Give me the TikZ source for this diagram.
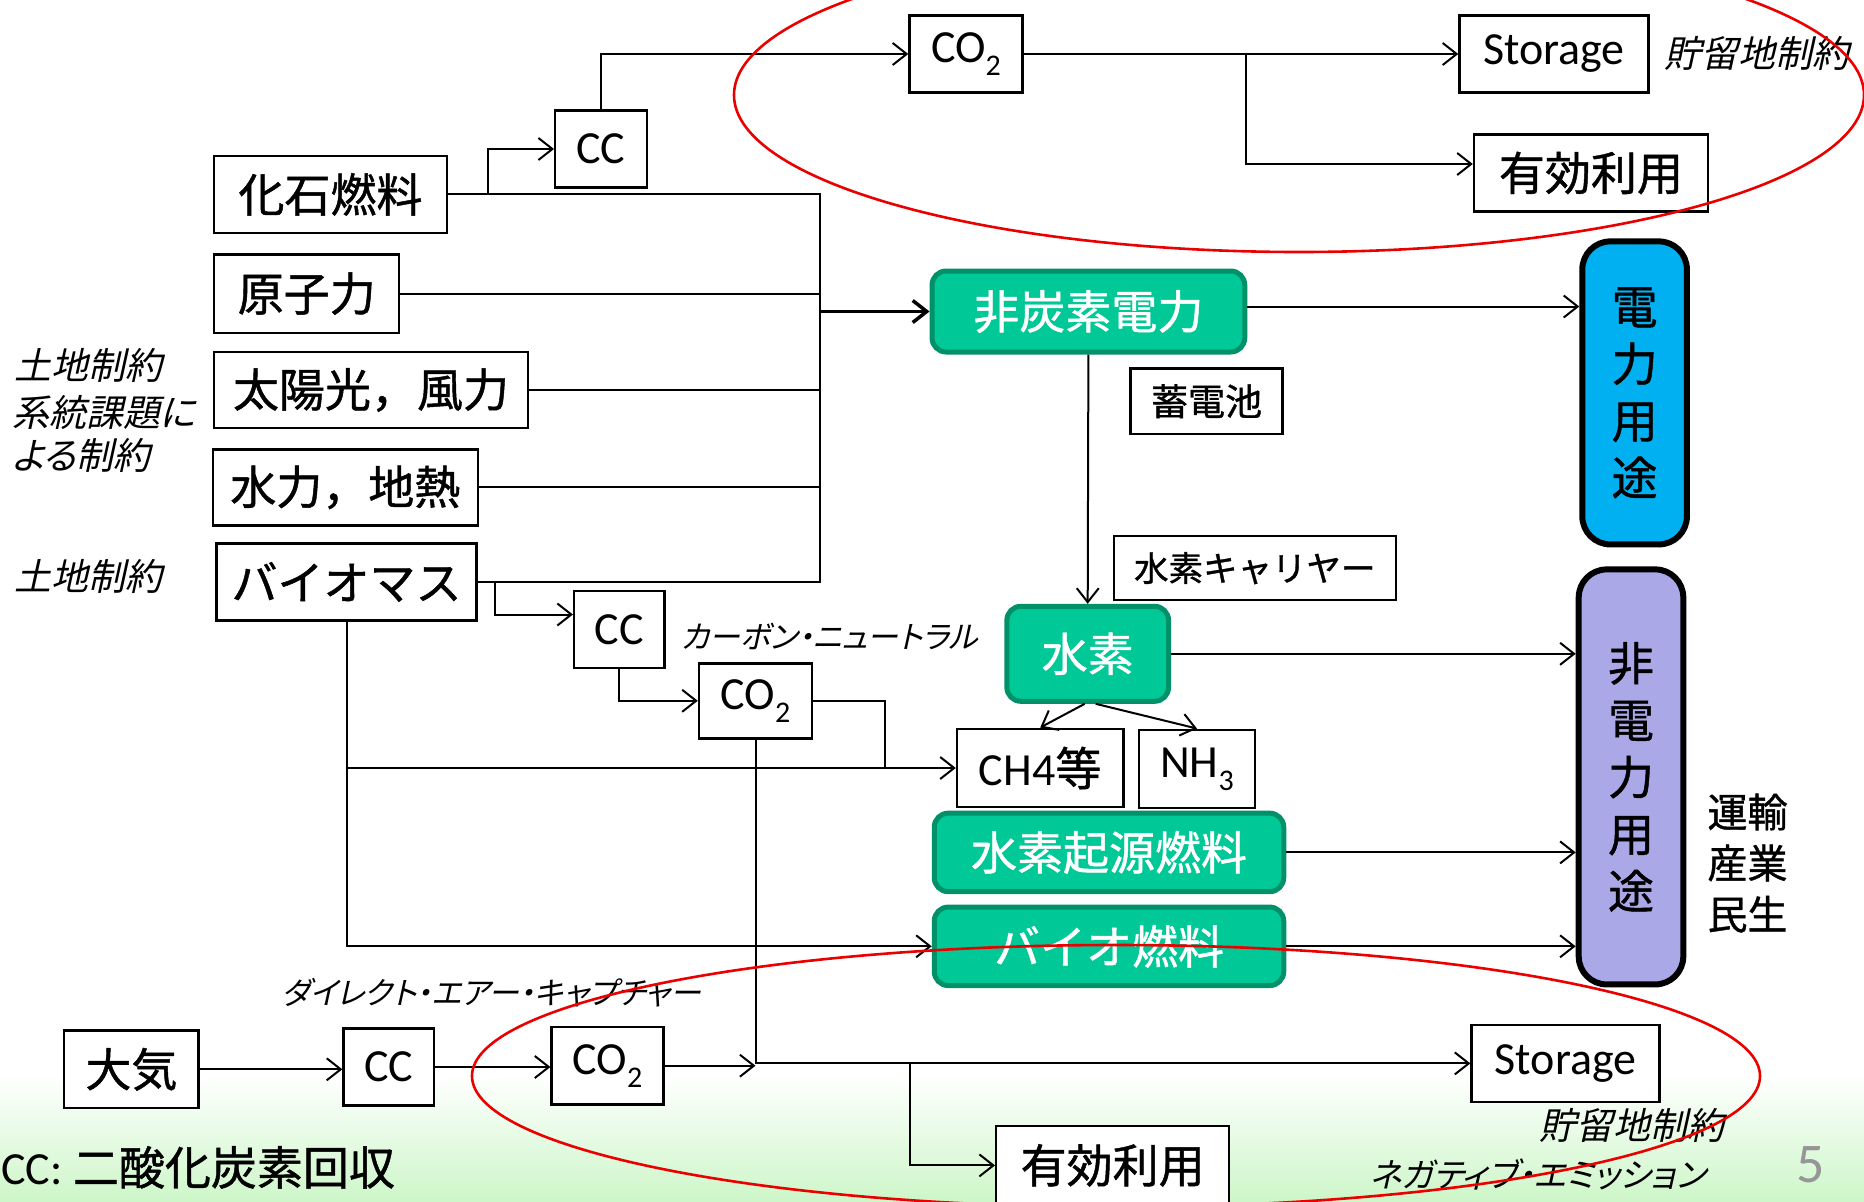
\documentclass[tikz,border=0pt]{standalone}
\usepackage{fontspec}
\setmainfont{Carlito}
\newfontfamily\jp{Noto Sans CJK JP}[FakeBold=1.0]
\newfontfamily\jpit{Noto Sans CJK JP}[FakeSlant=0.22,RawFeature=+palt]
\usetikzlibrary{arrows.meta}
\definecolor{gfill}{RGB}{0,200,150}
\definecolor{gdraw}{RGB}{0,145,105}
\definecolor{bfill}{RGB}{0,176,240}
\definecolor{pfill}{RGB}{171,168,232}
\definecolor{bggreen}{RGB}{205,246,200}
\definecolor{ellred}{RGB}{235,0,0}
\definecolor{pggray}{RGB}{150,150,150}
\newcommand\fsL{\fontsize{46}{55}\selectfont}
\newcommand\subs[1]{\raisebox{-0.28em}{\fontsize{30}{30}\selectfont #1}}
\begin{document}
\begin{tikzpicture}[x=1pt,y=-1pt,
 box/.style={draw=black, line width=2.4pt, fill=white, inner sep=0pt, font=\fsL},
 jbox/.style={box, font=\jp\fsL},
 gbox/.style={draw=gdraw, line width=5pt, fill=gfill, rounded corners=14pt, inner sep=0pt, text=white, font=\jp\fsL},
 ubox/.style={draw=black, line width=6pt, rounded corners=28pt, inner sep=0pt, align=center, font=\jp\fontsize{46}{57}\selectfont},
 wire/.style={line width=2pt},
 conn/.style={line width=2pt, -{Straight Barb[length=14pt,width=22pt]}},
 note/.style={font=\jpit\fontsize{37}{44}\selectfont, inner sep=0pt, anchor=west},
 knote/.style={note, font=\jpit\fontsize{31}{36}\selectfont},
]
\useasboundingbox (0,0) rectangle (1864,1202);
\clip (0,0) rectangle (1864,1202);
\fill[white] (0,0) rectangle (1864,1202);
\shade[top color=white, bottom color=bggreen] (0,1075) rectangle (1864,1202);

% top CO2 chain
\node[box, minimum width=113pt, minimum height=77pt] (co2a) at (966,54) {CO\subs{2}};
\node[box, minimum width=189pt, minimum height=77pt] (stoa) at (1554,54) {Storage};
\node[box, minimum width=91.5pt, minimum height=77pt] (cca) at (601,149) {CC};
\node[jbox, minimum width=234pt, minimum height=77pt] (yuka) at (1591,173) {有効利用};

% sources
\node[jbox, minimum width=233pt, minimum height=77pt] (fossil) at (330.5,194.4) {化石燃料};
\node[jbox, minimum width=185pt, minimum height=78.5pt] (nuc) at (306.7,293.6) {原子力};
\node[jbox, minimum width=314pt, minimum height=76pt] (solar) at (371,390) {太陽光，風力};
\node[jbox, minimum width=265pt, minimum height=76pt] (hydro) at (345.3,487.4) {水力，地熱};
\node[jbox, minimum width=260pt, minimum height=77pt] (bio) at (346.5,582) {バイオマス};

% middle
\node[gbox, minimum width=312.7pt, minimum height=81pt] (ncp) at (1088.4,311.5) {非炭素電力};
\node[ubox, fill=bfill, minimum width=104.6pt, minimum height=303pt] (elec) at (1634.6,392.9) {電\\力\\用\\途};
\node[box, font=\jp\fontsize{37}{44}\selectfont, minimum width=152pt, minimum height=65.4pt] (batt) at (1206.6,401.2) {蓄電池};
\node[box, font=\jp\fontsize{34.5}{40}\selectfont, minimum width=282pt, minimum height=64pt] (carr) at (1254.8,568.2) {水素キャリヤー};
\node[gbox, minimum width=161.7pt, minimum height=95pt] (h2) at (1087.7,653.8) {水素};
\node[ubox, fill=pfill, minimum width=104.6pt, minimum height=415pt] (nonel) at (1631,776.9) {非\\電\\力\\用\\途};
\node[box, minimum width=90.3pt, minimum height=77.3pt] (ccb) at (619.3,629.5) {CC};
\node[box, minimum width=113pt, minimum height=75pt] (co2b) at (755.5,700.8) {CO\subs{2}};
\node[box, minimum width=166.4pt, minimum height=78.5pt] (ch4) at (1040.2,768) {CH4{\jp 等}};
\node[box, minimum width=116.5pt, minimum height=78.5pt] (nh3) at (1197,769) {NH\subs{3}};
\node[gbox, minimum width=349.5pt, minimum height=78.5pt] (h2fuel) at (1109,852.4) {水素起源燃料};
\node[gbox, minimum width=349.5pt, minimum height=78.5pt] (biofuel) at (1109,946.3) {バイオ燃料};

% bottom DAC chain
\node[jbox, minimum width=134.3pt, minimum height=77.3pt] (air) at (131.4,1069.3) {大気};
\node[box, minimum width=90.3pt, minimum height=77.3pt] (ccc) at (388.7,1067) {CC};
\node[box, minimum width=111.7pt, minimum height=77.3pt] (co2c) at (607.5,1065.7) {CO\subs{2}};
\node[box, minimum width=188pt, minimum height=77.3pt] (stob) at (1565.6,1063.4) {Storage};
\node[jbox, minimum width=233pt, minimum height=79pt] (yukb) at (1112.7,1165.4) {有効利用};

% notes
\node[note] (n1) at (14,365) {土地制約};
\node[note] (n2) at (12,412.5) {系統課題に};
\node[note] (n3) at (12,455.3) {よる制約};
\node[note] (n4) at (14,576.6) {土地制約};
\node[note] (n5) at (1664,53.5) {貯留地制約};
\node[knote] (n6) at (681,636) {カーボン・ニュートラル};
\node[knote] (n7) at (281.7,992.6) {ダイレクト・エアー・キャプチャー};
\node[note] (n8) at (1539.5,1125.8) {貯留地制約};
\node[knote, font=\jpit\fontsize{33.5}{40}\selectfont] (n9) at (1369.5,1174.5) {ネガティブ・エミッション};
\node[font=\jp\fontsize{40}{46}\selectfont, inner sep=0pt] (u1) at (1747.5,812) {運輸};
\node[font=\jp\fontsize{40}{46}\selectfont, inner sep=0pt] (u2) at (1747.5,863) {産業};
\node[font=\jp\fontsize{40}{46}\selectfont, inner sep=0pt] (u3) at (1747.5,914.2) {民生};
\node[anchor=west, inner sep=0pt, font=\fsL] (cap) at (1,1167.4) {CC: {\jp 二酸化炭素回収}};
\node[font=\fontsize{56}{60}\selectfont, text=pggray, inner sep=0pt] (pg) at (1810.5,1165) {5};

% connectors: source bus
\coordinate (busT) at (820.3,194.4);
\draw[wire] (fossil.east) -- (busT) -- (busT |- bio.east) -- (bio.east);
\draw[wire] (nuc.east) -- (nuc.east -| busT);
\draw[wire] (solar.east) -- (solar.east -| busT);
\draw[wire] (hydro.east) -- (hydro.east -| busT);
\draw[conn, line width=3.5pt] (busT |- ncp.west) -- (ncp.west);

% fossil CCS
\coordinate (fb) at (487.5,194.4);
\draw[conn] (fb) |- (cca.west);
\draw[conn] (cca.north) |- (co2a.west);
\draw[conn] (co2a.east) -- (stoa.west);
\coordinate (cb) at (1245.9,54);
\draw[conn] (cb) |- ([yshift=9pt]yuka.west);

% electricity / hydrogen
\draw[conn] ([yshift=5pt]ncp.east) -- ([yshift=5pt]ncp.east -| elec.west);
\draw[conn] (ncp.south) -- (h2.north);
\draw[conn] (h2.east) -- (h2.east -| nonel.west);
\draw[conn] ([xshift=-3pt]h2.south) -- (ch4.north);
\draw[conn] ([xshift=8pt]h2.south) -- (nh3.north);
\draw[conn] (h2fuel.east) -- (h2fuel.east -| nonel.west);
\draw[conn] (biofuel.east) -- (biofuel.east -| nonel.west);

% biomass
\coordinate (bb) at (494.5,582);
\draw[conn] (bb) |- ([yshift=15pt]ccb.west);
\draw[conn] (ccb.south) |- (co2b.west);
\coordinate (cm) at (884.5,700.8);
\draw[wire] (co2b.east) -- (cm) -- (cm |- ch4.west);
\draw[conn] (bio.south) |- (ch4.west);
\draw[conn] (bio.south) |- (biofuel.west);
\draw[conn] (co2b.south) |- (stob.west);

% DAC
\draw[conn] (air.east) -- (air.east -| ccc.west);
\draw[conn] (ccc.east) -- (ccc.east -| co2c.west);
\coordinate (dj) at (co2b.south |- co2c.east);
\draw[conn] (co2c.east) -- (dj);
\coordinate (yb) at (909.6,1063.4);
\draw[conn] (yb) |- (yukb.west);

% red ellipses
\draw[ellred, line width=2.6pt] (1299,95) ellipse [x radius=565pt, y radius=157pt];
\draw[ellred, line width=2.6pt] (1116,1076) ellipse [x radius=644pt, y radius=131pt];
\end{tikzpicture}
\end{document}
